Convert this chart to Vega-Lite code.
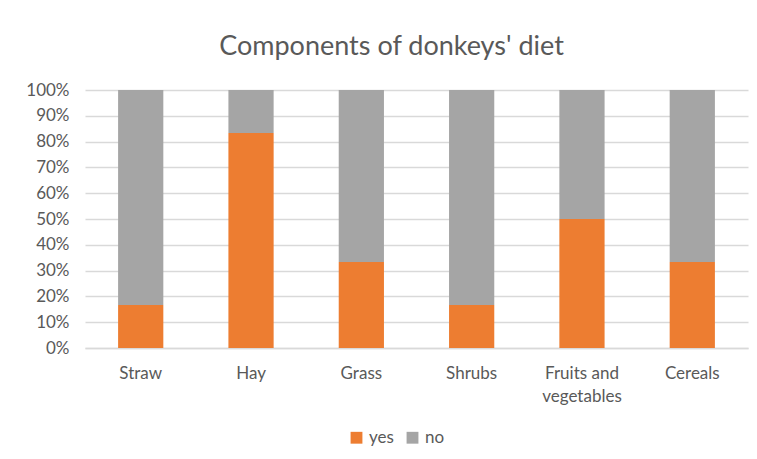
{
  "$schema": "https://vega.github.io/schema/vega-lite/v6.json",
  "width": 663,
  "height": 258,
  "autosize": {"type": "none"},
  "padding": {"left": 85, "top": 90, "right": 9, "bottom": 111},
  "background": "white",
  "title": {
    "text": "Components of donkeys' diet",
    "fontSize": 27,
    "font": "Lato",
    "fontWeight": "normal",
    "color": "#595959",
    "anchor": "middle",
    "offset": 20,
    "dx": -25
  },
  "data": {
    "values": [
      {"food": "Straw", "answer": "yes", "value": 16.7, "ord": 1},
      {"food": "Straw", "answer": "no", "value": 83.3, "ord": 2},
      {"food": "Hay", "answer": "yes", "value": 83.3, "ord": 1},
      {"food": "Hay", "answer": "no", "value": 16.7, "ord": 2},
      {"food": "Grass", "answer": "yes", "value": 33.3, "ord": 1},
      {"food": "Grass", "answer": "no", "value": 66.7, "ord": 2},
      {"food": "Shrubs", "answer": "yes", "value": 16.7, "ord": 1},
      {"food": "Shrubs", "answer": "no", "value": 83.3, "ord": 2},
      {"food": "Fruits and vegetables", "answer": "yes", "value": 50, "ord": 1},
      {"food": "Fruits and vegetables", "answer": "no", "value": 50, "ord": 2},
      {"food": "Cereals", "answer": "yes", "value": 33.3, "ord": 1},
      {"food": "Cereals", "answer": "no", "value": 66.7, "ord": 2}
    ]
  },
  "mark": {"type": "bar"},
  "encoding": {
    "x": {
      "field": "food",
      "type": "nominal",
      "sort": null,
      "scale": {"paddingInner": 0.59, "paddingOuter": 0.3},
      "axis": {
        "title": null,
        "labelAngle": 0,
        "labelFont": "Lato",
        "labelFontSize": 17,
        "labelColor": "#595959",
        "labelPadding": 17,
        "labelLineHeight": 23,
        "labelExpr": "datum.label == 'Fruits and vegetables' ? ['Fruits and', 'vegetables'] : datum.label",
        "ticks": false,
        "domainColor": "#d9d9d9",
        "domainWidth": 1.5,
        "grid": false
      }
    },
    "y": {
      "field": "value",
      "type": "quantitative",
      "stack": "normalize",
      "scale": {"domain": [0, 1]},
      "axis": {
        "title": null,
        "format": ".0%",
        "values": [0, 0.1, 0.2, 0.3, 0.4, 0.5, 0.6, 0.7, 0.8, 0.9, 1],
        "labelFont": "Lato",
        "labelFontSize": 17,
        "labelColor": "#595959",
        "labelPadding": 16,
        "ticks": false,
        "domain": false,
        "gridColor": "#d9d9d9",
        "gridWidth": 1.5
      }
    },
    "color": {
      "field": "answer",
      "type": "nominal",
      "scale": {"domain": ["yes", "no"], "range": ["#ED7D31", "#A5A5A5"]},
      "legend": {
        "title": null,
        "orient": "none",
        "legendX": 263,
        "legendY": 339,
        "direction": "horizontal",
        "symbolType": "square",
        "symbolSize": 140,
        "symbolStrokeWidth": 0,
        "labelFont": "Lato",
        "labelFontSize": 17,
        "labelColor": "#595959",
        "columnPadding": 10
      }
    },
    "order": {"field": "ord", "type": "quantitative", "sort": "ascending"}
  },
  "config": {
    "view": {"stroke": null}
  }
}
